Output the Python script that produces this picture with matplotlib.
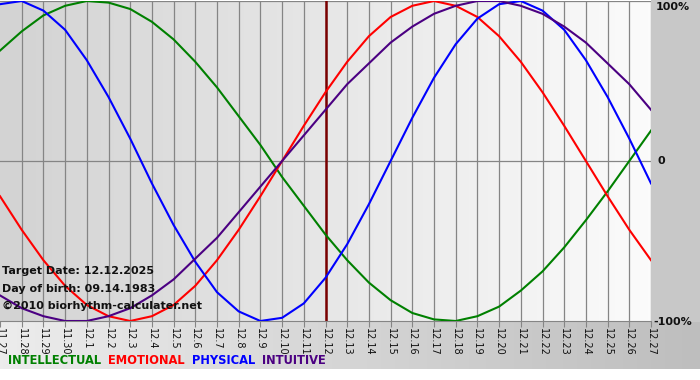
import numpy as np
import matplotlib
matplotlib.use("Agg")
import matplotlib.pyplot as plt
from matplotlib.colors import LinearSegmentedColormap

# days shown (11.27 .. 12.27), target day 12.12
dates = ["11.27", "11.28", "11.29", "11.30"] + ["12.%d" % d for d in range(1, 28)]
target_day = "12.12"

# biorhythm values per day (-1 .. 1)
intellectual = [0.69, 0.81, 0.91, 0.97, 1.00, 0.99, 0.95, 0.87, 0.76, 0.62, 0.46, 0.28, 0.10, -0.10, -0.28,
                -0.46, -0.62, -0.76, -0.87, -0.95, -0.99, -1.00, -0.97, -0.91, -0.81, -0.69, -0.54, -0.37,
                -0.19, 0.00, 0.19]
emotional = [-0.22, -0.43, -0.62, -0.78, -0.90, -0.97, -1.00, -0.97, -0.90, -0.78, -0.62, -0.43, -0.22,
             0.00, 0.22, 0.43, 0.62, 0.78, 0.90, 0.97, 1.00, 0.97, 0.90, 0.78, 0.62, 0.43, 0.22, 0.00,
             -0.22, -0.43, -0.62]
physical = [0.98, 1.00, 0.94, 0.82, 0.63, 0.40, 0.14, -0.14, -0.40, -0.63, -0.82, -0.94, -1.00, -0.98,
            -0.89, -0.73, -0.52, -0.27, 0.00, 0.27, 0.52, 0.73, 0.89, 0.98, 1.00, 0.94, 0.82, 0.63, 0.40,
            0.14, -0.14]
intuitive = [-0.84, -0.92, -0.97, -1.00, -1.00, -0.97, -0.92, -0.84, -0.74, -0.61, -0.48, -0.32, -0.16,
             0.00, 0.16, 0.32, 0.48, 0.61, 0.74, 0.84, 0.92, 0.97, 1.00, 1.00, 0.97, 0.92, 0.84, 0.74,
             0.61, 0.48, 0.32]

series_names = ["INTELLECTUAL", "EMOTIONAL", "PHYSICAL", "INTUITIVE"]
series_colors = ["#008000", "#ff0000", "#0000ff", "#4b0082"]

info_lines = ["Target Date: 12.12.2025", "Day of birth: 09.14.1983", "\u00a92010 biorhythm-calculater.net"]

W, H = 700, 380
fig = plt.figure(figsize=(W / 100, H / 100), dpi=100)
fig.patch.set_facecolor("white")

# background panels in pixel coords
bg = fig.add_axes([0, 0, 1, 1])
bg.set_xlim(0, W)
bg.set_ylim(H, 0)
bg.axis("off")
bg.add_patch(plt.Rectangle((651, 0), W - 651, 322, color="#c8c8c8", lw=0))
band = LinearSegmentedColormap.from_list("band", ["#ececec", "#bebebe"])
bg.imshow(np.linspace(0, 1, 200).reshape(1, -1), cmap=band, aspect="auto",
          extent=(0, W, 369, 322), zorder=0)

# main plot
ax = fig.add_axes([0, 1 - 321 / H, 651 / W, 320 / H])
x = np.arange(len(dates))
plot_bg = LinearSegmentedColormap.from_list("plotbg", ["#d3d3d3", "#fbfbfb"])
ax.imshow(np.linspace(0, 1, 200).reshape(1, -1), cmap=plot_bg, aspect="auto",
          extent=(0, len(dates) - 1, -1, 1), zorder=0)
ax.set_xlim(0, len(dates) - 1)
ax.set_ylim(-1, 1)

for xi in x[1:]:
    ax.axvline(xi, color="#858585", lw=0.9, zorder=1)
ax.axhline(0, color="#858585", lw=0.9, zorder=1)
ax.axhline(1, color="#858585", lw=0.9, zorder=1)

ax.axvline(dates.index(target_day), color="#7a0000", lw=1.8, zorder=2)

for vals, col in zip([intellectual, emotional, physical, intuitive], series_colors):
    ax.plot(x, vals, color=col, lw=1.5, zorder=3, solid_joinstyle="round")

for s in ["top", "left", "right"]:
    ax.spines[s].set_visible(False)
ax.spines["bottom"].set_color("#858585")
ax.set_yticks([])
ax.set_xticks(x)
ax.set_xticklabels(dates, rotation=270, fontsize=7, color="#111111")
ax.tick_params(axis="x", length=4, color="#858585", pad=1)

# info block, bottom-left of the plot (drawn on the plot axes so it sits on top)
for i, line in enumerate(info_lines):
    ax.text(2 / W, 1 - (271 + i * 17.5) / H, line, transform=fig.transFigure,
            fontsize=8, fontweight="bold", color="#111111", zorder=4, va="center")

# right side percent labels
bg.text(656, 7, "100%", fontsize=8, fontweight="bold", color="#111111", va="center")
bg.text(658, 161, "0", fontsize=8, fontweight="bold", color="#111111", va="center")
bg.text(653, 322, "-100%", fontsize=8, fontweight="bold", color="#111111", va="center")

# legend row
lx = 8
for name, col in zip(series_names, series_colors):
    t = bg.text(lx, 361, name, fontsize=8.3, fontweight="bold", color=col, va="center")
    fig.canvas.draw()
    bb = t.get_window_extent()
    lx += bb.width + 7

fig.savefig("out.png", dpi=100)
